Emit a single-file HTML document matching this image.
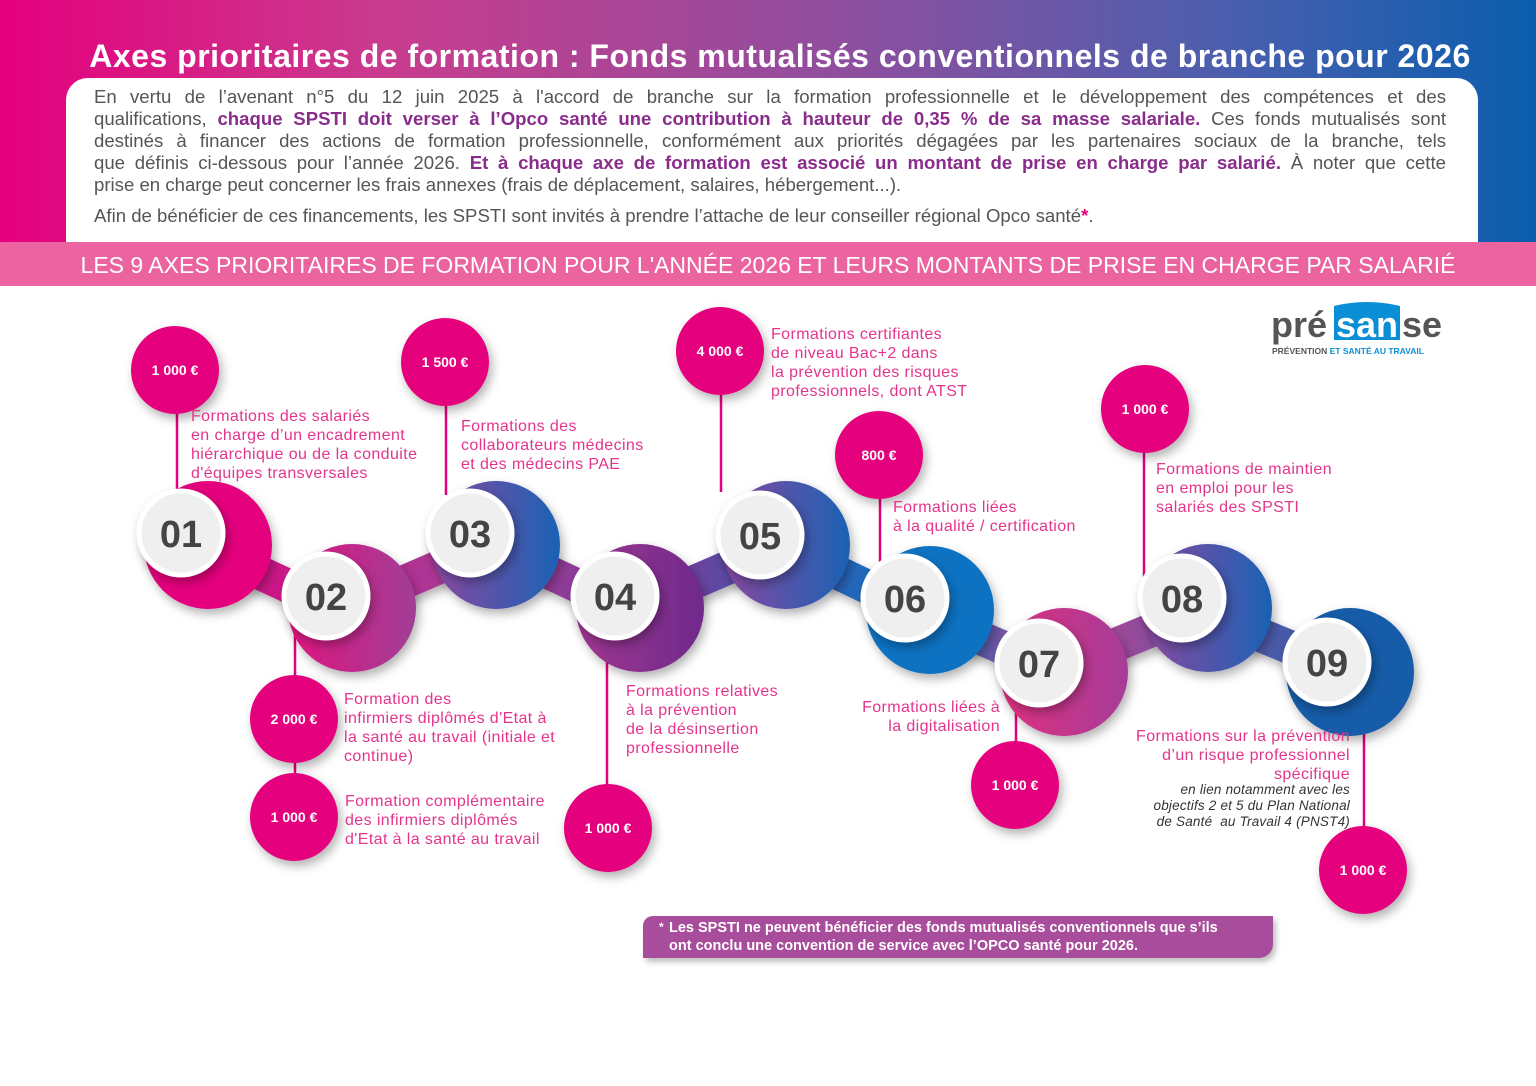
<!DOCTYPE html>
<html><head><meta charset="utf-8">
<style>
*{margin:0;padding:0;box-sizing:border-box}
body{width:1536px;height:1086px;background:#fff;position:relative;overflow:hidden;font-family:"Liberation Sans",sans-serif}
.hdr{position:absolute;left:0;top:0;width:1536px;height:242px;background:linear-gradient(90deg,#e5007d 0%,#c93c8e 25%,#8f4e9e 55%,#4a5fae 80%,#0a5ead 100%)}
.title{position:absolute;left:0;width:1560px;top:38px;text-align:center;color:#fff;font-weight:bold;font-size:32px;letter-spacing:0.5px}
.box{position:absolute;left:66px;top:78px;width:1412px;height:170px;background:#fff;border-radius:22px 22px 0 0}
.body{position:absolute;left:94px;top:86px;width:1352px;font-size:18.6px;line-height:22px;color:#555}
.body div{white-space:nowrap}
.body .j{text-align:justify;text-align-last:justify}
.body b{color:#8a2c8c}
.band{position:absolute;left:0;top:242px;width:1536px;height:44px;background:#eb649f;color:#fff;font-size:23px;text-align:center;line-height:46px}
.t{position:absolute;color:#e4348c;font-size:16px;letter-spacing:0.4px;line-height:19px;white-space:nowrap}
svg{position:absolute;left:0;top:0}
.foot{position:absolute;left:643px;top:916px;width:630px;height:42px;background:#a84d9b;border-radius:10px 0 14px 0;box-shadow:3px 4px 6px rgba(0,0,0,.25);color:#fff;font-weight:bold;font-size:14.5px;line-height:18px;padding:3px 0 0 26px;white-space:nowrap}
</style></head><body>
<div class="hdr"></div>
<div class="title">Axes prioritaires de formation : Fonds mutualisés conventionnels de branche pour 2026</div>
<div class="box"></div>
<div class="body">
<div class="j">En vertu de l’avenant n°5 du 12 juin 2025 à l'accord de branche sur la formation professionnelle et le développement des compétences et des</div>
<div class="j">qualifications, <b>chaque SPSTI doit verser à l’Opco santé une contribution à hauteur de 0,35 % de sa masse salariale.</b> Ces fonds mutualisés sont</div>
<div class="j">destinés à financer des actions de formation professionnelle, conformément aux priorités dégagées par les partenaires sociaux de la branche, tels</div>
<div class="j">que définis ci-dessous pour l’année 2026. <b>Et à chaque axe de formation est associé un montant de prise en charge par salarié.</b> À noter que cette</div>
<div>prise en charge peut concerner les frais annexes (frais de déplacement, salaires, hébergement...).</div>
<div style="margin-top:9px">Afin de bénéficier de ces financements, les SPSTI sont invités à prendre l’attache de leur conseiller régional Opco santé<b style="color:#e5007d">*</b>.</div></div>
<div class="band">LES 9 AXES PRIORITAIRES DE FORMATION POUR L'ANNÉE 2026 ET LEURS MONTANTS DE PRISE EN CHARGE PAR SALARIÉ</div>

<svg width="1536" height="1086" viewBox="0 0 1536 1086">
<defs>
<linearGradient id="path" x1="150" x2="1420" gradientUnits="userSpaceOnUse">
<stop offset="0" stop-color="#e5007d"/><stop offset="0.25" stop-color="#a53d98"/><stop offset="0.4" stop-color="#7a3a98"/><stop offset="0.6" stop-color="#0a74c4"/><stop offset="0.72" stop-color="#c0408f"/><stop offset="0.85" stop-color="#5a5aaa"/><stop offset="1" stop-color="#1a5aa8"/></linearGradient>
<linearGradient id="g2" x1="0" x2="1"><stop offset="0" stop-color="#e0157f"/><stop offset="1" stop-color="#a03e96"/></linearGradient>
<linearGradient id="g3" x1="0" x2="1"><stop offset="0" stop-color="#8a48a0"/><stop offset="1" stop-color="#1a62b4"/></linearGradient>
<linearGradient id="g4" x1="0" x2="1"><stop offset="0" stop-color="#a0368f"/><stop offset="1" stop-color="#6e2a8c"/></linearGradient>
<linearGradient id="g7" x1="0" x2="1"><stop offset="0" stop-color="#e0307f"/><stop offset="1" stop-color="#a53c98"/></linearGradient>
<filter id="sh" x="-30%" y="-30%" width="160%" height="160%"><feDropShadow dx="3" dy="5" stdDeviation="5" flood-color="#000" flood-opacity="0.3"/></filter>
</defs>
<g stroke="#e5007d" stroke-width="2.5">
<line x1="177" y1="400" x2="177" y2="492"/><line x1="446" y1="395" x2="446" y2="495"/>
<line x1="721" y1="385" x2="721" y2="492"/><line x1="880" y1="490" x2="880" y2="565"/>
<line x1="1144" y1="445" x2="1144" y2="580"/><line x1="295" y1="630" x2="295" y2="685"/>
<line x1="295" y1="750" x2="295" y2="780"/><line x1="607" y1="645" x2="607" y2="790"/>
<line x1="1016" y1="700" x2="1016" y2="750"/><line x1="1364" y1="725" x2="1364" y2="830"/>
</g>
<polyline points="200,545 340,610 490,545 630,610 780,545 920,612 1055,670 1200,610 1345,670" fill="none" stroke="url(#path)" stroke-width="34" filter="url(#sh)"/>
<g filter="url(#sh)">
<circle cx="208" cy="545" r="64" fill="#e5007d"/>
<circle cx="352" cy="608" r="64" fill="url(#g2)"/>
<circle cx="496" cy="545" r="64" fill="url(#g3)"/>
<circle cx="640" cy="608" r="64" fill="url(#g4)"/>
<circle cx="786" cy="545" r="64" fill="url(#g3)"/>
<circle cx="930" cy="610" r="64" fill="#0a72c2"/>
<circle cx="1064" cy="672" r="64" fill="url(#g7)"/>
<circle cx="1208" cy="608" r="64" fill="url(#g3)"/>
<circle cx="1350" cy="672" r="64" fill="#185ca8"/>
</g>
<g fill="#efefef" stroke="#fff" stroke-width="5" filter="url(#sh)">
<circle cx="181" cy="533" r="42"/><circle cx="326" cy="596" r="42"/><circle cx="470" cy="533" r="42"/>
<circle cx="615" cy="596" r="42"/><circle cx="760" cy="535" r="42"/><circle cx="905" cy="598" r="42"/>
<circle cx="1039" cy="663" r="42"/><circle cx="1182" cy="598" r="42"/><circle cx="1327" cy="662" r="42"/>
</g>
<g font-family="Liberation Sans" font-weight="bold" font-size="38" fill="#444" text-anchor="middle">
<text x="181" y="547">01</text><text x="326" y="610">02</text><text x="470" y="547">03</text>
<text x="615" y="610">04</text><text x="760" y="549">05</text><text x="905" y="612">06</text>
<text x="1039" y="677">07</text><text x="1182" y="612">08</text><text x="1327" y="676">09</text>
</g>
<g fill="#e5007d" filter="url(#sh)">
<circle cx="175" cy="370" r="44"/><circle cx="445" cy="362" r="44"/><circle cx="720" cy="351" r="44"/>
<circle cx="879" cy="455" r="44"/><circle cx="1145" cy="409" r="44"/><circle cx="294" cy="719" r="44"/>
<circle cx="294" cy="817" r="44"/><circle cx="608" cy="828" r="44"/><circle cx="1015" cy="785" r="44"/>
<circle cx="1363" cy="870" r="44"/>
</g>
<g font-family="Liberation Sans" font-weight="bold" font-size="14" fill="#fff" text-anchor="middle">
<text x="175" y="375">1 000 €</text><text x="445" y="367">1 500 €</text><text x="720" y="356">4 000 €</text>
<text x="879" y="460">800 €</text><text x="1145" y="414">1 000 €</text><text x="294" y="724">2 000 €</text>
<text x="294" y="822">1 000 €</text><text x="608" y="833">1 000 €</text><text x="1015" y="790">1 000 €</text>
<text x="1363" y="875">1 000 €</text>
</g>
<path d="M1334 340 L1334 306 Q1367 298 1400 306 L1400 340 Z" fill="#0a8fd6"/>
<g font-family="Liberation Sans" font-size="36" font-weight="bold">
<text x="1271" y="337" fill="#555">pré</text>
<text x="1336" y="337" fill="#fff">san</text>
<text x="1402" y="337" fill="#555">se</text>
</g>
<text x="1272" y="354" font-family="Liberation Sans" font-weight="bold" font-size="8.5" fill="#555">PRÉVENTION <tspan fill="#0a8fd6">ET SANTÉ AU TRAVAIL</tspan></text>
</svg>

<div class="t" style="left:191px;top:407px">Formations des salariés<br>en charge d’un encadrement<br>hiérarchique ou de la conduite<br>d'équipes transversales</div>
<div class="t" style="left:461px;top:417px">Formations des<br>collaborateurs médecins<br>et des médecins PAE</div>
<div class="t" style="left:771px;top:325px">Formations certifiantes<br>de niveau Bac+2 dans<br>la prévention des risques<br>professionnels, dont ATST</div>
<div class="t" style="left:893px;top:498px">Formations liées<br>à la qualité / certification</div>
<div class="t" style="left:1156px;top:460px">Formations de maintien<br>en emploi pour les<br>salariés des SPSTI</div>
<div class="t" style="left:344px;top:690px">Formation des<br>infirmiers diplômés d'Etat à<br>la santé au travail (initiale et<br>continue)</div>
<div class="t" style="left:345px;top:792px">Formation complémentaire<br>des infirmiers diplômés<br>d'Etat à la santé au travail</div>
<div class="t" style="left:626px;top:682px">Formations relatives<br>à la prévention<br>de la désinsertion<br>professionnelle</div>
<div class="t" style="left:800px;top:698px;width:200px;text-align:right">Formations liées à<br>la digitalisation</div>
<div class="t" style="left:1050px;top:727px;width:300px;text-align:right">Formations sur la prévention<br>d’un risque professionnel<br>spécifique</div>
<div class="t" style="left:1050px;top:782px;width:300px;text-align:right;color:#333;font-style:italic;font-size:13.5px;line-height:16px;letter-spacing:0.2px">en lien notamment avec les<br>objectifs 2 et 5 du Plan National<br>de Santé &nbsp;au Travail 4 (PNST4)</div>
<div class="foot"><sup style="position:absolute;left:16px;top:2px">*</sup>Les SPSTI ne peuvent bénéficier des fonds mutualisés conventionnels que s’ils<br>ont conclu une convention de service avec l’OPCO santé pour 2026.</div>
</body></html>
